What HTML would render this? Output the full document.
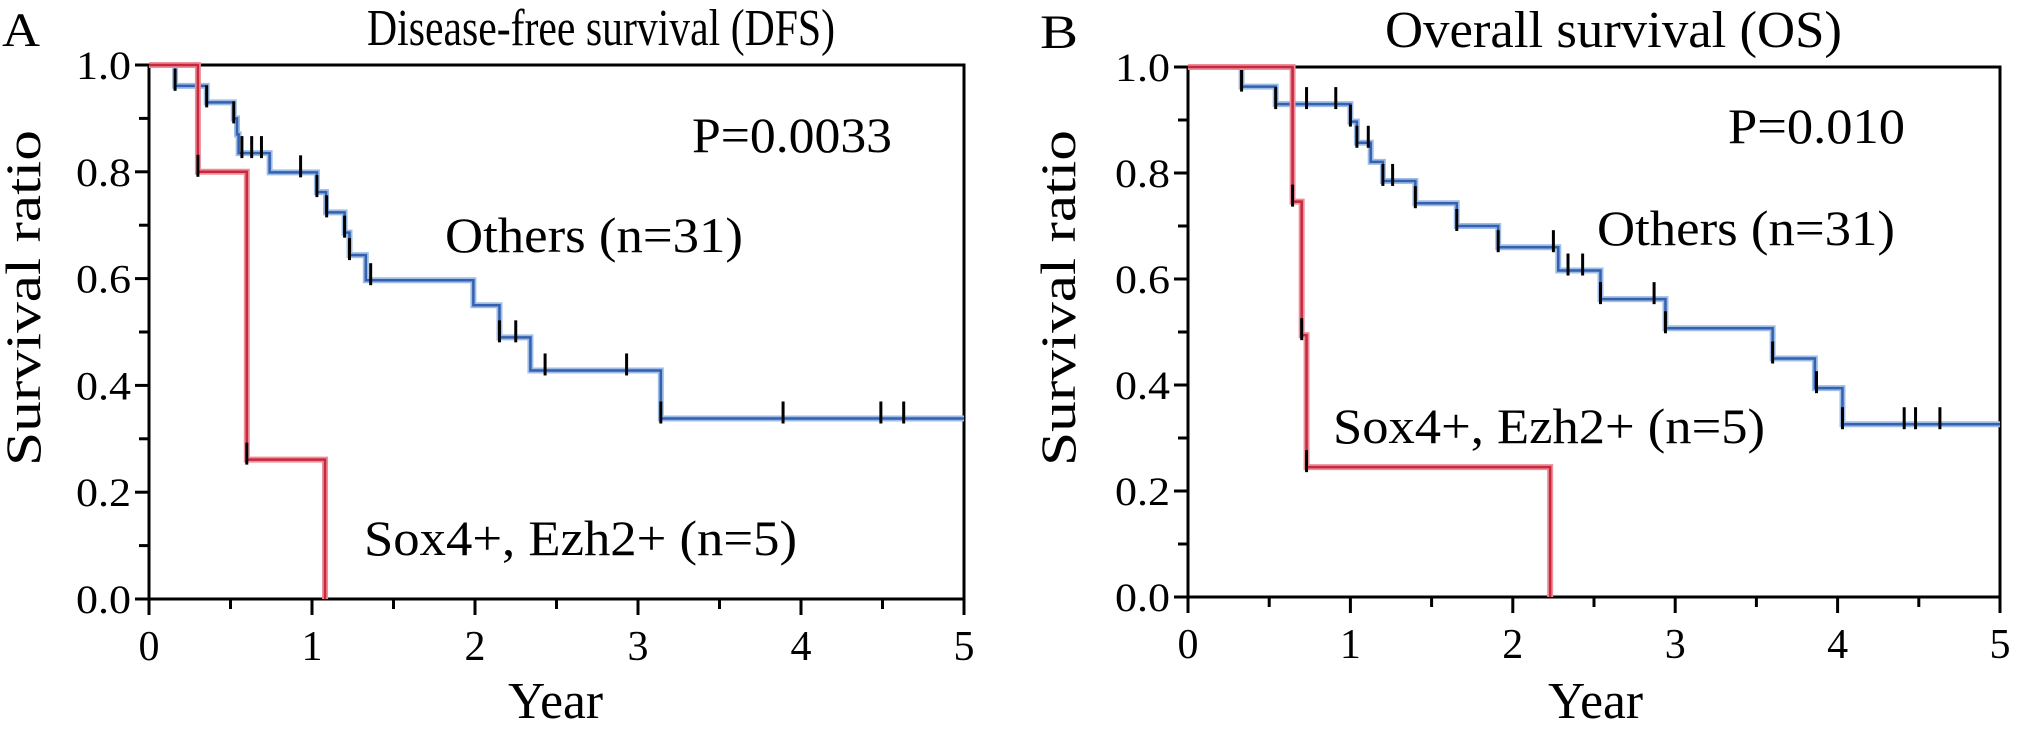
<!DOCTYPE html>
<html><head><meta charset="utf-8">
<style>
html,body{margin:0;padding:0;background:#fff;}
svg{display:block;}
text{font-family:"Liberation Serif","Times New Roman",serif;fill:#000;}
</style></head>
<body>
<svg id="chart" width="2019" height="731" viewBox="0 0 2019 731" xmlns="http://www.w3.org/2000/svg">
  <g id="panelA"></g>
  <g id="panelB"></g>
</svg>
<script>
// Panel A (DFS) data
const aOthersTimes = [0.16, 0.354, 0.52, 0.54, 0.55, 0.74, 1.03, 1.086, 1.2, 1.23, 1.33, 1.99, 2.15, 2.34, 3.14];
const aOthersVals  = [0.961, 0.93, 0.90, 0.87, 0.835, 0.799, 0.762, 0.724, 0.686, 0.644, 0.597, 0.55, 0.49, 0.428, 0.338];
const aOthersCensor = [0.16, 0.354, 0.52, 0.57, 0.63, 0.69, 0.93, 1.03, 1.09, 1.2, 1.23, 1.36, 2.15, 2.25, 2.43, 2.93, 3.14, 3.89, 4.49, 4.63];
const aSoxTimes = [0.30, 0.58, 0.60, 1.08];
const aSoxVals  = [0.80, 0.80, 0.261, 0.0];
const aSoxCensor = [0.30, 0.60];
// Panel B (OS) data
const bOthersTimes = [0.33, 0.54, 1.0, 1.04, 1.125, 1.20, 1.40, 1.655, 1.91, 2.28, 2.54, 2.94, 3.60, 3.86, 4.03];
const bOthersVals  = [0.963, 0.93, 0.897, 0.857, 0.821, 0.785, 0.743, 0.70, 0.66, 0.616, 0.562, 0.507, 0.45, 0.394, 0.326];
const bOthersCensor = [0.33, 0.54, 0.65, 0.73, 0.91, 1.0, 1.04, 1.11, 1.2, 1.26, 1.40, 1.655, 1.91, 2.25, 2.34, 2.43, 2.54, 2.87, 2.94, 3.60, 3.87, 4.03, 4.41, 4.48, 4.63];
const bSoxTimes = [0.644, 0.70, 0.73, 2.23];
const bSoxVals  = [0.746, 0.494, 0.245, 0.0];
const bSoxCensor = [0.644, 0.70, 0.73];
// Axis ticks
const xTickLabels = ["0","1","2","3","4","5"];
const yTickLabels = ["0.0","0.2","0.4","0.6","0.8","1.0"];

const NS = "http://www.w3.org/2000/svg";
const FF = '"Liberation Serif", "Times New Roman", serif';
function mk(parent, tag, attrs, txt){
  const e = document.createElementNS(NS, tag);
  for (const k in attrs) e.setAttribute(k, attrs[k]);
  if (txt !== undefined) { e.textContent = txt; e.setAttribute("font-family", FF); }
  parent.appendChild(e);
  return e;
}
function stepVal(times, vals, t){
  let v = 1;
  for (let i=0;i<times.length;i++){ if (times[i] <= t + 1e-9) v = vals[i]; }
  return v;
}
function drawPanel(g, cfg){
  const X = t => cfg.x0 + (cfg.x1 - cfg.x0) * t / 5;
  const Y = v => cfg.y0 + (cfg.y1 - cfg.y0) * v;
  const frame = mk(g, "rect", {x:cfg.x0, y:cfg.y1, width:cfg.x1-cfg.x0, height:cfg.y0-cfg.y1, fill:"none", stroke:"#000", "stroke-width":3});
  
  
  for (let i=0;i<=10;i++){
    const y = Y(i/10);
    const tk = mk(g, "line", {x1:cfg.x0-(i%2===0?14:10), x2:cfg.x0, y1:y, y2:y, stroke:"#000", "stroke-width":3});
    
    
  }
  yTickLabels.forEach((lab,i)=>{
    const t = mk(g, "text", {x:cfg.x0-18, y:Y(i*0.2)+14, "font-size":40, "text-anchor":"end", textLength:55, lengthAdjust:"spacingAndGlyphs"}, lab);
    
    
  });
  for (let i=0;i<=10;i++){
    const x = X(i/2);
    const tk = mk(g, "line", {x1:x, x2:x, y1:cfg.y0, y2:cfg.y0+(i%2===0?16:10), stroke:"#000", "stroke-width":3});
    
    
  }
  xTickLabels.forEach((lab,i)=>{
    const t = mk(g, "text", {x:X(i), y:cfg.y0+61, "font-size":42, "text-anchor":"middle"}, lab);
    
    
  });
  function series(times, vals, censor, dark, light, name){
    let d = "M" + X(0) + "," + Y(1);
    let prev = 1;
    times.forEach((t,i)=>{ d += " L" + X(t) + "," + Y(prev) + " L" + X(t) + "," + Y(vals[i]); prev = vals[i]; });
    if (prev > 0) d += " L" + X(5) + "," + Y(prev);
    const sg = mk(g, "g", {});
    
    
    mk(sg, "path", {d:d, fill:"none", stroke:light, "stroke-width":6});
    mk(sg, "path", {d:d, fill:"none", stroke:dark, "stroke-width":2.5});
    censor.forEach(t=>{
      const v = stepVal(times, vals, t);
      const c = mk(sg, "line", {x1:X(t), x2:X(t), y1:Y(v)-17, y2:Y(v)+5, stroke:"#000", "stroke-width":3});
      
      
    });
  }
  series(cfg.oT, cfg.oV, cfg.oC, "#3560b0", "#9dbde6", "others-curve");
  series(cfg.sT, cfg.sV, cfg.sC, "#c8283c", "#ec8f9c", "sox4-ezh2-curve");
  cfg.texts.forEach(tt=>{
    const a = {x:tt.x, y:tt.y, "font-size":tt.fs};
    if (tt.w) { a.textLength = tt.w; a.lengthAdjust = "spacingAndGlyphs"; }
    if (tt.rot) { a.transform = "rotate(-90 " + tt.x + " " + tt.y + ")"; a["text-anchor"]="middle"; }
    const t = mk(g, "text", a, tt.s);
    
    
  });
}
drawPanel(document.getElementById("panelA"), {
  x0:149, x1:964, y0:599, y1:65,
  oT:aOthersTimes, oV:aOthersVals, oC:aOthersCensor,
  sT:aSoxTimes, sV:aSoxVals, sC:aSoxCensor,
  texts:[
    {s:"A", x:2, y:46, fs:48, w:38, n:"panel-label-a"},
    {s:"Disease-free survival (DFS)", x:367, y:45, fs:52, w:468, n:"chart-title"},
    {s:"P=0.0033", x:692, y:152, fs:50, w:200, n:"p-value"},
    {s:"Others (n=31)", x:445, y:252, fs:50, w:298, n:"others-label"},
    {s:"Sox4+, Ezh2+ (n=5)", x:364, y:555, fs:50, w:433, n:"sox4-ezh2-label"},
    {s:"Year", x:508, y:718, fs:52, w:95, n:"x-axis-title"},
    {s:"Survival ratio", x:40, y:298, fs:50, w:336, rot:true, n:"y-axis-title"}
  ]
});
drawPanel(document.getElementById("panelB"), {
  x0:1188, x1:2000, y0:597, y1:67,
  oT:bOthersTimes, oV:bOthersVals, oC:bOthersCensor,
  sT:bSoxTimes, sV:bSoxVals, sC:bSoxCensor,
  texts:[
    {s:"B", x:1040, y:48, fs:48, w:38, n:"panel-label-b"},
    {s:"Overall survival (OS)", x:1385, y:47, fs:52, w:457, n:"chart-title"},
    {s:"P=0.010", x:1728, y:143, fs:50, w:177, n:"p-value"},
    {s:"Others (n=31)", x:1597, y:245, fs:50, w:298, n:"others-label"},
    {s:"Sox4+, Ezh2+ (n=5)", x:1333, y:443, fs:50, w:432, n:"sox4-ezh2-label"},
    {s:"Year", x:1548, y:718, fs:52, w:95, n:"x-axis-title"},
    {s:"Survival ratio", x:1075, y:298, fs:50, w:336, rot:true, n:"y-axis-title"}
  ]
});
</script>
</body></html>
